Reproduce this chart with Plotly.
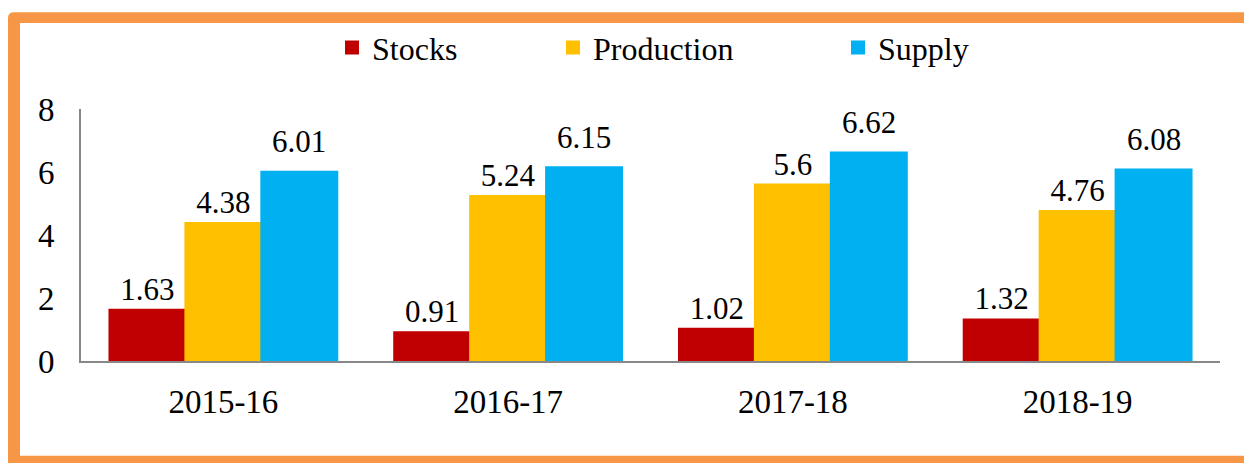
import plotly.graph_objects as go

categories = ["2015-16", "2016-17", "2017-18", "2018-19"]
stocks = [1.63, 0.91, 1.02, 1.32]
production = [4.38, 5.24, 5.6, 4.76]
supply = [6.01, 6.15, 6.62, 6.08]
series_names = ["Stocks", "Production", "Supply"]
colors = ["#C00000", "#FFC000", "#00B0F0"]

# page is drawn with an 8px body margin, so figure coords = page coords - 8
W, H = 1244, 455
L, R, T, B = 73, 32, 98, 102
PW, PH = W - L - R, H - T - B
FONT = "Liberation Serif, Times New Roman, serif"
BARGAP = 0.2


def px_x(p):
    return (p - L) / PW


def px_y(p):
    return (H - B - p) / PH


fig = go.Figure()
legends = ["legend", "legend2", "legend3"]
all_vals = [stocks, production, supply]
for i, (name, vals, col, lg) in enumerate(zip(series_names, all_vals, colors, legends)):
    is_supply = name == "Supply"
    fig.add_trace(go.Bar(
        x=categories, y=vals, name=name, legend=lg, showlegend=True,
        marker=dict(color=col, line=dict(color=col, width=2)),
        text=None if is_supply else [f"{v:g}" for v in vals],
        textposition="outside",
        textfont=dict(family=FONT, size=31, color="#000000"),
        outsidetextfont=dict(family=FONT, size=31, color="#000000"),
        cliponaxis=False,
    ))

# Supply labels sit a little higher in the original
bar_w = (1 - BARGAP) / len(series_names)
for ci, v in enumerate(supply):
    fig.add_annotation(x=ci + bar_w, y=v, xref="x", yref="y", text=f"{v:g}",
                       showarrow=False, yanchor="middle", yshift=30,
                       font=dict(family=FONT, size=31, color="#000000"))

# border (outer rounded rect minus inner rect)
ox0, oy0, ox1, oy1, r = 0, 0, 1250, 461, 6
ix0, iy0, ix1, iy1 = 12, 11, 1236, 449
outer = (f"M {px_x(ox0 + r)},{px_y(oy0)} L {px_x(ox1)},{px_y(oy0)} L {px_x(ox1)},{px_y(oy1)} "
         f"L {px_x(ox0)},{px_y(oy1)} L {px_x(ox0)},{px_y(oy0 + r)} "
         f"Q {px_x(ox0)},{px_y(oy0)} {px_x(ox0 + r)},{px_y(oy0)} Z")
inner = (f"M {px_x(ix0)},{px_y(iy0)} L {px_x(ix1)},{px_y(iy0)} L {px_x(ix1)},{px_y(iy1)} "
         f"L {px_x(ix0)},{px_y(iy1)} Z")
fig.add_shape(type="path", xref="paper", yref="paper", path=outer + " " + inner,
              fillcolor="#F79646", fillrule="evenodd", line=dict(width=0), layer="above")

leg_common = dict(orientation="h", yanchor="middle", xanchor="left",
                  font=dict(family=FONT, size=32, color="#000000"),
                  bgcolor="rgba(0,0,0,0)", borderwidth=0, visible=True)
legend_centers = [344, 565, 850]
leg_y = px_y(36)

fig.update_layout(
    width=W, height=H,
    margin=dict(l=L, r=R, t=T, b=B, pad=0),
    paper_bgcolor="#FFFFFF", plot_bgcolor="#FFFFFF",
    barmode="group", bargap=BARGAP, bargroupgap=0,
    showlegend=True,
    font=dict(family=FONT, size=31, color="#000000"),
    legend=dict(x=px_x(legend_centers[0] - 20), y=leg_y, **leg_common),
    legend2=dict(x=px_x(legend_centers[1] - 20), y=leg_y, **leg_common),
    legend3=dict(x=px_x(legend_centers[2] - 20), y=leg_y, **leg_common),
    xaxis=dict(showline=True, linecolor="#888888", linewidth=2, ticks="",
               showgrid=False, ticklabelstandoff=10,
               tickfont=dict(family=FONT, size=33, color="#000000")),
    yaxis=dict(range=[0, 8], dtick=2, showline=True, linecolor="#888888", linewidth=2,
               ticks="", showgrid=False, zeroline=False, ticklabelstandoff=18,
               tickfont=dict(family=FONT, size=33, color="#000000")),
)

fig.write_html("out.html")
